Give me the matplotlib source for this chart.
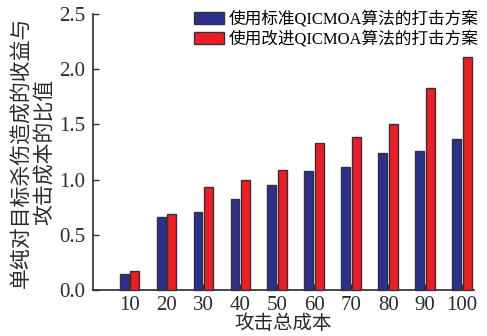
import numpy as np
import matplotlib
matplotlib.use('Agg')
import matplotlib.pyplot as plt

plt.rcParams['font.family'] = ['Liberation Serif', 'Noto Sans CJK SC']

costs = ['10', '20', '30', '40', '50', '60', '70', '80', '90', '100']
standard = [0.145, 0.66, 0.71, 0.82, 0.95, 1.08, 1.11, 1.24, 1.26, 1.37]
improved = [0.175, 0.69, 0.93, 1.00, 1.09, 1.33, 1.39, 1.50, 1.83, 2.11]
labels = ['使用标准QICMOA算法的打击方案', '使用改进QICMOA算法的打击方案']

fig = plt.figure(figsize=(4.87, 3.36), dpi=100)
ax = fig.add_axes([0.190, 0.137, 0.783, 0.821])

x = np.arange(1, len(costs) + 1)
w = 0.24
ax.bar(x - 0.145, standard, w, color='#2b2f8f', edgecolor='#333333',
       linewidth=1.0, label=labels[0], clip_on=False, zorder=3)
ax.bar(x + 0.14, improved, w, color='#ee1c25', edgecolor='#333333',
       linewidth=1.0, label=labels[1], clip_on=False, zorder=3)

ax.set_xlim(0, 10.32)
ax.set_ylim(0, 2.5)
ax.set_xticks(x)
ax.set_xticklabels(costs)
ax.set_yticks([0, 0.5, 1.0, 1.5, 2.0, 2.5])
ax.set_yticklabels(['0.0', '0.5', '1.0', '1.5', '2.0', '2.5'])
ax.tick_params(direction='in', length=4, width=1, labelsize=15, colors='#2a2a2a')
ax.tick_params(axis='x', pad=4)
ax.tick_params(axis='y', pad=5)
for s in ['top', 'right']:
    ax.spines[s].set_visible(False)
for s in ['left', 'bottom']:
    ax.spines[s].set_linewidth(1.2)
    ax.spines[s].set_color('#2a2a2a')

ax.set_xlabel('攻击总成本', fontsize=14, labelpad=0, color='#2a2a2a')
ax.set_ylabel('单纯对目标杀伤造成的收益与\n攻击成本的比值', fontsize=15,
              linespacing=1.2, labelpad=3, color='#2a2a2a')

fig.legend(loc='upper left', bbox_to_anchor=(0.398, 0.968), frameon=False,
           fontsize=12, handlelength=1.8, handleheight=0.7,
           handletextpad=0.3, labelspacing=0.2, borderpad=0, borderaxespad=0)

fig.savefig('out.png', dpi=100)
